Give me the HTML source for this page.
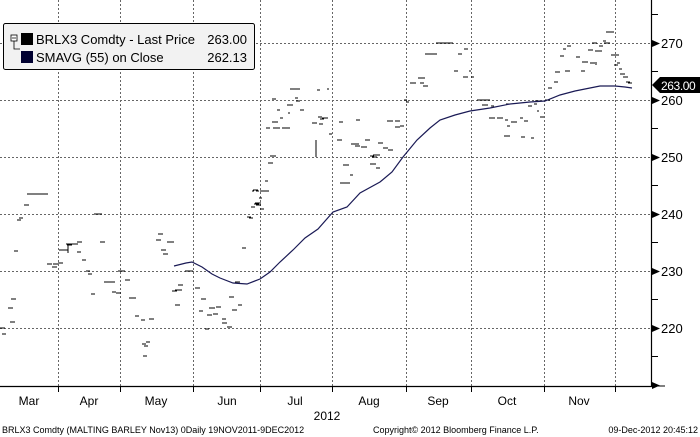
<!DOCTYPE html>
<html><head><meta charset="utf-8"><style>
html,body{margin:0;padding:0;background:#fff;}
svg{display:block;font-family:"Liberation Sans",Verdana,sans-serif;}
</style></head><body>
<svg width="700" height="437" viewBox="0 0 700 437" xmlns="http://www.w3.org/2000/svg">
<rect width="700" height="437" fill="#fff"/>
<g stroke="#666" stroke-width="1" stroke-dasharray="2,2" fill="none">
<path d="M0 43.5H651M0 100.5H651M0 157.5H651M0 214.5H651M0 271.5H651M0 328.5H651"/>
<path d="M58.5 0V386M120.5 0V386M193.5 0V386M260.5 0V386M332.5 0V386M406.5 0V386M471.5 0V386M544.5 0V386M615.5 0V386"/>
</g>
<g stroke="#000" stroke-width="1" fill="none" shape-rendering="crispEdges">
<path d="M0 328H5M2 334H6M10 322H15M8 308H13M11 299H16M14 251H18M19 218H23M17 220H21M24 205H29M27 194H31M29 194H48M47 264H52M52 267H57M53 264H58M58 263H63M59 250H68M67 245H72M66 244H78M68 244V253M77 242H82M77 252H81M82 260H86M86 271H90M88 274H92M94 214H102M100 242H105M104 282H115M91 294H95M112 292H116M116 293H121M118 271H125M125 280H130M129 298H136M135 316H139M141 320H145M149 319H154M142 344H146M146 342H150M144 346H148M143 356H147M156 240H161M158 234H163M161 250H166M167 242H174M163 254H168M172 291H177M175 290H182M178 285H183M175 305H180M185 271H193M195 288H200M201 299H206M199 311H203M207 315H212M209 308H215M213 314H218M216 307H221M222 319H226M222 323H227M205 329H209M227 327H232M229 297H234M232 310H237M238 305H242M235 282H240M242 248H246M249 218H253M251 207H255M254 204H259M253 190H258M256 205H261M260 209H264M259 198H262M264 191H269"/>
<path d="M247 217H251M252 191H254M256 191H259M255 203H261M260 191H265M265 181H268M268 163H273M270 156H274M266 128H270M273 156H276M272 122H278M273 128H280M277 110H280M272 99H276M280 118H283M282 128H290M288 113H290M287 105H293M290 89H300M295 98H298M296 101H300M300 110H304M312 123H317M318 117H322M319 124H323M320 119H324M317 90H320M322 118H328M327 89H329M329 134H332M337 140H342M339 122H343M343 165H346M345 165H349M340 183H350M350 175H353M356 120H360M351 144H359M355 146H360M361 147H367M365 140H370M370 156H374M372 157H377M373 155H380M370 164H376M376 168H380M378 143H383M383 148H388M388 150H393M387 121H393M395 121H400M395 127H400M400 126H404M404 100H407M406 102H409M410 83H416M418 78H422M420 83H424M425 86H428M425 54H430M439 43H441M316 140V157"/>
<path d="M420 78H425M423 86H427M436 43H453M426 54H437M458 54H462M464 49H468M454 71H458M463 77H468M469 71H471M471 77H474M477 100H490M482 105H488M489 118H495M491 106H494M497 118H503M505 120H508M506 104H510M511 122H517M520 118H523M524 121H528M528 106H532M534 104H537M531 138H534M537 111H539M540 117H544M521 137H525M504 136H510M507 126H510M535 101H540M545 100H550M548 88H552M554 82H558M555 72H560M565 71H570M560 56H564M567 46H571M563 49H566M576 57H580M582 62H588M581 71H585M588 50H593M590 63H595M599 51H602M592 43H597M595 51H600M604 43H610M599 46H603M603 41H606M606 32H614M611 55H619M614 65H618M617 63H620M619 69H622M620 74H625M623 77H628M626 82H630M628 83H632M596 62V65"/>
</g>
<polyline fill="none" stroke="#1a1a55" stroke-width="1.2" points="174,266 186,263 192,262 202,267 212,274 220,278 233,283 247,284 260,279 270,272 280,262 293,250 305,238 318,229 333,212 347,207 360,193 380,182 392,172 403,157 417,140 430,128 440,120 455,115 470,111 490,108 510,104 530,102 545,101 560,95 575,91 590,88 600,86 615,86 625,87 632,88"/>
<path d="M651.5 0V387M0 386.5H652" stroke="#000" stroke-width="1.2" fill="none"/>
<path d="M652 386L665 386M652 14.5H658M652 71.5H658M652 128.5H658M652 185.5H658M652 242.5H658M652 299.5H658M652 356.5H658" stroke="#000" fill="none"/>
<g stroke="#000" fill="none"><path d="M58.5 386V392M120.5 386V392M193.5 386V392M260.5 386V392M332.5 386V392M406.5 386V392M471.5 386V392M544.5 386V392M615.5 386V392"/></g>
<g fill="#000">
<polygon points="652,40 660,43.5 652,47"/><polygon points="652,97 660,100.5 652,104"/><polygon points="652,154 660,157.5 652,161"/><polygon points="652,211 660,214.5 652,218"/><polygon points="652,268 660,271.5 652,275"/><polygon points="652,325 660,328.5 652,332"/><polygon points="652,382 660,385.5 652,389"/>
</g>
<g font-size="13" fill="#000">
<text x="661" y="48">270</text><text x="661" y="105">260</text><text x="661" y="162">250</text><text x="661" y="219">240</text><text x="661" y="276">230</text><text x="661" y="333">220</text>
</g>
<polygon points="652,85 660,77 700,77 700,93 660,93" fill="#000"/>
<text x="661" y="90" font-size="12" letter-spacing="-0.4" fill="#fff">263.00</text>
<rect x="3.5" y="23.5" width="251" height="46" rx="2" fill="#f2f2f2" stroke="#000"/>
<rect x="11" y="35" width="6" height="6" fill="#fff" stroke="#000" stroke-width="0.8"/>
<path d="M12 38H16M14 41V49H20" stroke="#000" stroke-width="0.8" fill="none"/>
<rect x="21" y="33" width="12" height="12" fill="#000"/>
<rect x="21" y="51" width="12" height="12" fill="#000030"/>
<g font-size="13" fill="#000">
<text x="36" y="44">BRLX3 Comdty - Last Price</text><text x="247" y="44" text-anchor="end">263.00</text>
<text x="36" y="62">SMAVG (55) on Close</text><text x="247" y="62" text-anchor="end">262.13</text>
</g>
<g font-size="12" fill="#000" text-anchor="middle">
<text x="29" y="405">Mar</text><text x="89" y="405">Apr</text><text x="156" y="405">May</text><text x="227" y="405">Jun</text><text x="295" y="405">Jul</text><text x="369" y="405">Aug</text><text x="438" y="405">Sep</text><text x="507" y="405">Oct</text><text x="579" y="405">Nov</text>
<text x="327" y="420">2012</text>
</g>
<g font-size="9" fill="#000">
<text x="2" y="433">BRLX3 Comdty (MALTING BARLEY    Nov13) 0Daily 19NOV2011-9DEC2012</text>
<text x="373" y="433">Copyright© 2012 Bloomberg Finance L.P.</text>
<text x="698" y="433" text-anchor="end">09-Dec-2012 20:45:12</text>
</g>
</svg>
</body></html>
